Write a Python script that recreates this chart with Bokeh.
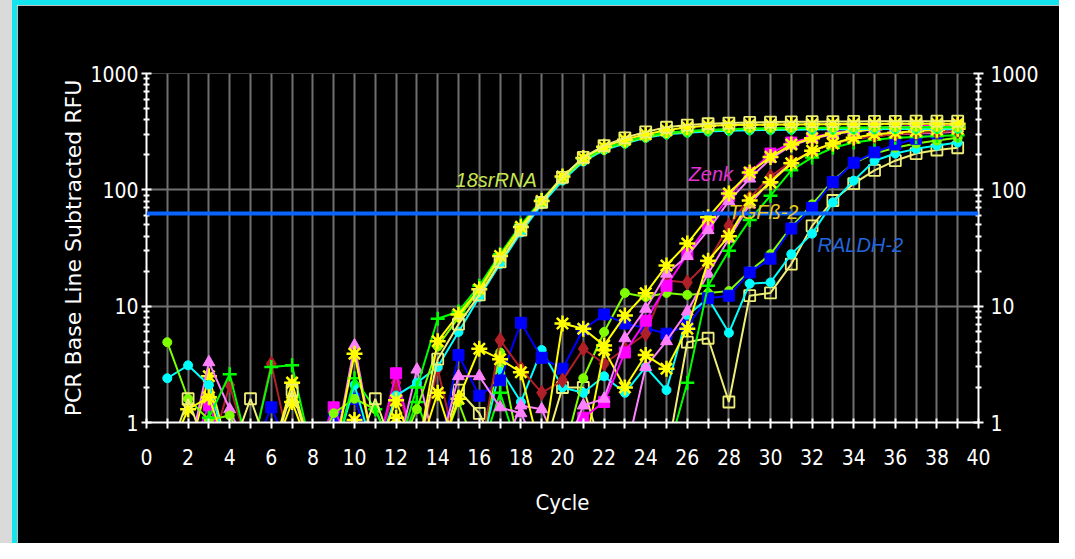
from bokeh.plotting import figure
from bokeh.models import Range1d, LogAxis, FixedTicker, PrintfTickFormatter, Span, Label, Title
from bokeh.embed import file_html
from bokeh.resources import INLINE

# ---------------- data ----------------
cycles = list(range(1, 40))
L = 0.5  # below detection (drawn under the axis)

s18_lime = [4.9, 1.6, 1.05, 1.15, L, L, L, L, 1.2, 1.6, 1.3, L, 1.3, 4.5, 8.0, 13.5, 26, 47, 80, 125, 180, 225, 255, 285, 305, 315, 325, 330, 335, 335, 338, 340, 340, 342, 342, 343, 343, 343, 344]
s18_plus = [L, L, 1.1, 2.6, L, 3.0, 3.1, L, L, 2.4, 1.3, L, 2.0, 7.8, 9.0, 15, 28, 50, 82, 128, 185, 228, 258, 290, 310, 320, 328, 332, 336, 338, 340, 341, 342, 343, 344, 345, 345, 346, 346]
s18_khaki = [L, 1.6, L, L, 1.6, L, 1.9, L, L, L, 1.6, L, L, 3.5, 7.0, 12.5, 24, 45, 78, 128, 190, 240, 280, 315, 345, 360, 370, 375, 380, 382, 384, 385, 386, 387, 388, 388, 389, 389, 390]
s18_star = [L, 1.3, 1.65, L, L, L, 2.2, L, L, 3.9, L, 1.55, L, 5.0, 8.5, 14, 27, 48, 80, 130, 188, 235, 270, 300, 325, 345, 355, 360, 362, 364, 365, 366, 367, 368, 368, 369, 369, 370, 370]
s18_cyan = [2.4, 3.1, 2.1, L, L, L, L, L, L, 2.1, L, 1.7, 2.2, 3.0, 6.0, 12, 23, 43, 75, 120, 175, 220, 250, 280, 300, 310, 318, 322, 325, 327, 329, 330, 331, 332, 333, 333, 334, 334, 335]

zenk_tri = [L, L, 3.3, 1.3, L, L, L, L, L, 4.6, L, L, 2.85, L, 2.5, 2.5, 1.35, 1.2, L, L, 1.4, 1.6, 5.3, 9.5, 19, 27, 45, 80, 125, 185, 240, 275, 300, 318, 330, 338, 343, 347, 350]
zenk_sq = [L, L, 1.4, L, L, L, L, L, 1.35, L, L, 2.65, L, L, L, L, L, L, L, L, 1.1, 1.5, 4.0, 7.5, 15, 28, 50, 88, 140, 205, 255, 282, 310, 325, 340, 348, 352, 355, 358]
zenk_star = [L, L, L, L, L, L, L, L, L, 1.05, L, 1.1, L, 1.8, L, L, L, L, L, 7.1, 6.4, 4.6, 8.3, 12.9, 22.4, 34.5, 58, 93, 141, 192, 245, 278, 305, 320, 332, 340, 345, 348, 350]

tgf_dia = [L, L, L, 2.1, L, 3.2, L, L, L, L, L, 2.2, L, 2.9, L, L, 5.1, 2.9, 1.8, 2.3, 4.3, 3.2, 4.3, 5.8, 16.6, 16, 24, 49, 85, 130, 175, 215, 250, 275, 290, 300, 308, 314, 320]
tgf_star = [L, L, 2.5, L, L, L, 1.5, L, L, L, L, L, L, L, 1.6, 4.3, 3.5, 2.7, L, L, L, 4.2, 2.0, 3.8, 2.9, 6.4, 24.6, 40, 81, 116, 169, 217, 250, 280, 300, 310, 320, 328, 335]
tgf_plus = [L, L, L, L, L, L, L, L, L, L, L, L, 1.5, L, L, L, 1.8, L, L, L, L, L, L, L, L, 2.2, 15, 30, 55, 89, 147, 190, 230, 255, 270, 280, 285, 290, 295]
tgf_tri = [L, L, L, L, L, L, L, L, L, L, L, L, L, L, L, L, L, 1.4, 1.3, L, L, L, L, 3.0, 5.0, 9.0, 19, 38, 75, 120, 170, 215, 250, 275, 290, 300, 305, 310, 315]

raldh_blue = [L, L, L, L, L, 1.35, L, L, 1.1, 1.6, L, L, L, L, 3.8, 1.7, 2.3, 7.2, 3.6, 2.9, 6.3, 8.5, 7.1, 6.5, 5.8, 6.8, 11.7, 12.3, 19.5, 25.6, 46.5, 70, 117, 171, 210, 245, 275, 305, 337]
raldh_cyan = [L, L, L, L, L, L, L, L, L, L, L, L, L, L, L, L, 2.9, 1.5, 4.2, 2.0, 1.8, 2.5, 1.8, 3.0, 1.9, 8.3, 11.7, 5.9, 15.6, 16, 28, 42, 78, 120, 178, 205, 225, 240, 255]
raldh_khaki = [L, L, L, L, L, L, L, L, L, L, L, L, L, L, 1.9, 1.2, L, L, L, 2.0, 2.0, L, L, L, L, 4.9, 5.3, 1.5, 12.3, 13, 23, 49, 81, 113, 147, 178, 205, 220, 230]
raldh_lime = [L, L, L, L, L, L, L, L, L, L, L, L, L, L, 1.5, L, 4.0, L, L, L, 2.4, 6.0, 13, 12, 13, 12.5, 13, 13.5, 20, 28, 48, 75, 120, 170, 205, 230, 250, 265, 280]

threshold = 62.7
x_ticks = list(range(0, 41, 2))
y_ticks = [1, 10, 100, 1000]

# ---------------- figure ----------------
W, H = 1042, 538
p = figure(width=W, height=H, output_backend="svg", toolbar_location=None,
           x_range=Range1d(0, 40), y_range=Range1d(1, 1000), y_axis_type="log",
           min_border_left=129, min_border_right=86, min_border_top=68, min_border_bottom=126)
p.background_fill_color = "black"
p.border_fill_color = "black"
p.outline_line_color = None
p.styles = {"border-left": "5px solid #14e4ee", "border-top": "5px solid #14e4ee",
            "margin-left": "12px", "box-sizing": "content-box",
            "box-shadow": "-12px 0 0 0 #dadada"}

GRID = "#707070"
p.xgrid.ticker = FixedTicker(ticks=list(range(1, 40)))
p.ygrid.ticker = FixedTicker(ticks=[10, 100, 1000])
for g in (p.xgrid, p.ygrid):
    g.grid_line_color = GRID
    g.grid_line_width = 2

TICKFONT = "DejaVu Sans Condensed"

def style_axis(ax):
    ax.axis_line_color = "white"
    ax.axis_line_width = 2
    ax.major_tick_line_color = "white"
    ax.minor_tick_line_color = "white"
    ax.major_tick_line_width = 2
    ax.minor_tick_line_width = 2
    ax.major_label_text_color = "white"
    ax.major_label_text_font = TICKFONT
    ax.major_label_text_font_size = "21px"
    ax.axis_label_text_color = "white"
    ax.axis_label_text_font_style = "normal"

yminor = [m * d for d in (1, 10, 100) for m in range(2, 10)]

ly = p.yaxis[0]
ly.ticker = FixedTicker(ticks=y_ticks, minor_ticks=yminor)
ly.formatter = PrintfTickFormatter(format="%d")
style_axis(ly)
ly.major_tick_in = 5
ly.major_tick_out = 5
ly.minor_tick_in = 3
ly.minor_tick_out = 3
ly.major_label_standoff = 3

ry = LogAxis(ticker=FixedTicker(ticks=y_ticks, minor_ticks=yminor),
             formatter=PrintfTickFormatter(format="%d"))
style_axis(ry)
ry.major_tick_in = 5
ry.major_tick_out = 5
ry.minor_tick_in = 3
ry.minor_tick_out = 3
ry.major_label_standoff = 7
p.add_layout(ry, "right")

bx = p.xaxis[0]
bx.ticker = FixedTicker(ticks=x_ticks, minor_ticks=list(range(1, 40, 2)))
bx.formatter = PrintfTickFormatter(format="%d")
style_axis(bx)
bx.major_tick_in = 4
bx.major_tick_out = 6
bx.minor_tick_in = 4
bx.minor_tick_out = 6
bx.major_label_standoff = 20
bx.axis_label = "Cycle"
bx.axis_label_text_font = TICKFONT
bx.axis_label_text_font_size = "22px"
bx.axis_label_standoff = 22

# y-axis title (sits a little above the frame centre, as in the original)
p.add_layout(Title(text="PCR Base Line Subtracted RFU", align="center", offset=36, standoff=4,
                   text_color="white", text_font="DejaVu Sans", text_font_size="22px",
                   text_font_style="normal"), "left")

# threshold line
p.add_layout(Span(location=threshold, dimension="width", line_color="#0a64ff", line_width=4))

# ---------------- series ----------------
LIME, GREEN, KHAKI, YELLOW, CYAN = "#7fff00", "#00ff00", "#eeee77", "#ffff00", "#00ffff"
VIOLET, MAGENTA, DRED, BLUE = "#ff80ff", "#ff00ff", "#b02028", "#0000ff"

def draw(vals, color, marker, lw=2):
    p.line(cycles, vals, line_color=color, line_width=lw)
    if marker == "circle":
        p.scatter(cycles, vals, marker="circle", size=9, fill_color=color, line_color=color)
    elif marker == "square":
        p.scatter(cycles, vals, marker="square", size=11, fill_color=color, line_color=color)
    elif marker == "osquare":
        p.scatter(cycles, vals, marker="square", size=11, fill_color=None, line_color=color, line_width=1.8)
    elif marker == "triangle":
        p.scatter(cycles, vals, marker="triangle", size=12, fill_color=color, line_color=color)
    elif marker == "diamond":
        p.scatter(cycles, vals, marker="diamond", size=15, fill_color=color, line_color=color)
    elif marker == "cross":
        p.scatter(cycles, vals, marker="cross", size=14, line_color=color, line_width=2.5)
    elif marker == "star":
        p.scatter(cycles, vals, marker="asterisk", size=16, line_color=color, line_width=2.5)
        p.scatter(cycles, vals, marker="circle", size=7, fill_color=color, line_color=color)

draw(raldh_khaki, KHAKI, "osquare")
draw(raldh_cyan, CYAN, "circle")
draw(raldh_lime, LIME, "circle")
draw(raldh_blue, BLUE, "square")
draw(tgf_tri, VIOLET, "triangle")
draw(tgf_plus, GREEN, "cross")
draw(tgf_dia, DRED, "diamond")
draw(tgf_star, YELLOW, "star")
draw(zenk_sq, MAGENTA, "square")
draw(zenk_tri, VIOLET, "triangle")
draw(zenk_star, YELLOW, "star")
draw(s18_cyan, CYAN, "circle")
draw(s18_lime, LIME, "circle")
draw(s18_plus, GREEN, "cross")
draw(s18_star, YELLOW, "star")
draw(s18_khaki, KHAKI, "osquare")

# ---------------- gene labels ----------------
def lab(x, y, text, color):
    p.add_layout(Label(x=x, y=y, text=text, text_color=color, text_font="Liberation Sans",
                       text_font_style="italic", text_font_size="20px",
                       text_baseline="alphabetic", text_align="left"))

lab(14.86, 120.5, "18srRNA", "#c8e650")
lab(26.06, 135.7, "Zenk", "#e032d2")
lab(27.98, 64.0, "TGFß-2", "#e8c820")
lab(32.26, 33.3, "RALDH-2", "#2266dd")

open("out.html", "w").write(file_html(p, INLINE))
